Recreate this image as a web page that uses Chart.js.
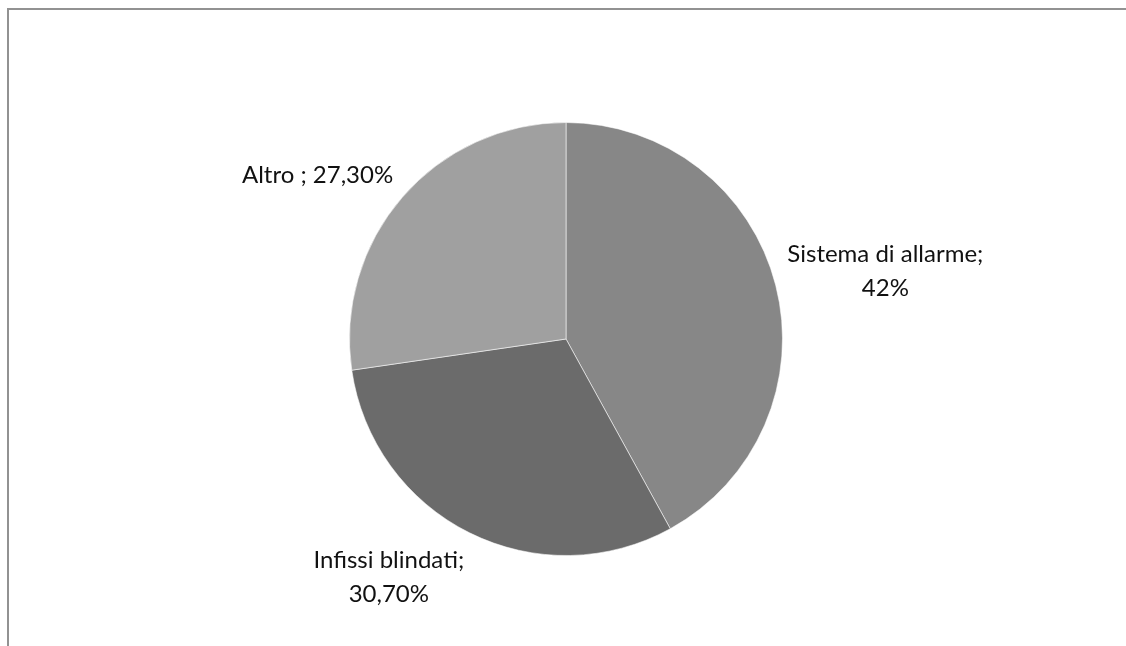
<!DOCTYPE html>
<html>
<head>
<meta charset="utf-8">
<script src="https://cdn.jsdelivr.net/npm/chart.js@4"></script>
<style>
html,body{margin:0;padding:0;background:#fff;}
#wrap{width:1126px;height:646px;position:relative;}
</style>
</head>
<body>
<div id="wrap"><canvas id="c" width="1126" height="646"></canvas></div>
<script>
const categories = ["Sistema di allarme", "Infissi blindati", "Altro "];
const values = [42, 30.7, 27.3];
const labelTexts = [["Sistema di allarme;", "42%"], ["Infissi blindati;", "30,70%"], ["Altro ; 27,30%"]];
const colors = ["#878787", "#6b6b6b", "#a0a0a0"];

const FONT = '24px Lato, sans-serif';
const LINE_H = 34;

const frame = {
  id: 'frame',
  beforeDraw(chart) {
    const ctx = chart.ctx;
    ctx.save();
    ctx.fillStyle = '#fff';
    ctx.fillRect(0, 0, chart.width, chart.height);
    ctx.strokeStyle = '#929292';
    ctx.lineWidth = 2;
    ctx.beginPath();
    ctx.moveTo(8, chart.height + 2);
    ctx.lineTo(8, 9);
    ctx.lineTo(chart.width + 2, 9);
    ctx.stroke();
    ctx.restore();
  }
};

const pieLabels = {
  id: 'pieLabels',
  afterDatasetsDraw(chart) {
    const ctx = chart.ctx;
    const meta = chart.getDatasetMeta(0);
    ctx.save();
    ctx.font = FONT;
    ctx.fillStyle = '#111';
    ctx.textAlign = 'center';
    ctx.textBaseline = 'middle';
    meta.data.forEach((arc, i) => {
      const p = arc.getProps(['x', 'y', 'startAngle', 'endAngle', 'outerRadius'], true);
      const mid = (p.startAngle + p.endAngle) / 2;
      const dx = Math.cos(mid), dy = Math.sin(mid);
      const g = 12;
      const ax = p.x + (p.outerRadius + g) * dx;
      const ay = p.y + (p.outerRadius + g) * dy;
      const lines = labelTexts[i];
      const w = Math.max(...lines.map(t => ctx.measureText(t).width));
      const h = lines.length * LINE_H;
      const cl = (v, k) => Math.max(-1, Math.min(1, v * k));
      const cx = ax + cl(dx, 2.3) * w / 2;
      const cy = ay + cl(dy, 1.3) * h / 2;
      lines.forEach((t, j) => {
        ctx.fillText(t, cx, cy - h / 2 + LINE_H * (j + 0.5));
      });
    });
    ctx.restore();
  }
};

new Chart(document.getElementById('c'), {
  type: 'pie',
  data: {
    labels: categories,
    datasets: [{
      data: values,
      backgroundColor: colors,
      borderColor: 'rgba(255,255,255,0.55)',
      borderWidth: 1
    }]
  },
  options: {
    responsive: false,
    animation: false,
    layout: { padding: { left: 349, right: 343, top: 122, bottom: 90 } },
    plugins: { legend: { display: false }, tooltip: { enabled: false } }
  },
  plugins: [frame, pieLabels]
});
</script>
</body>
</html>
